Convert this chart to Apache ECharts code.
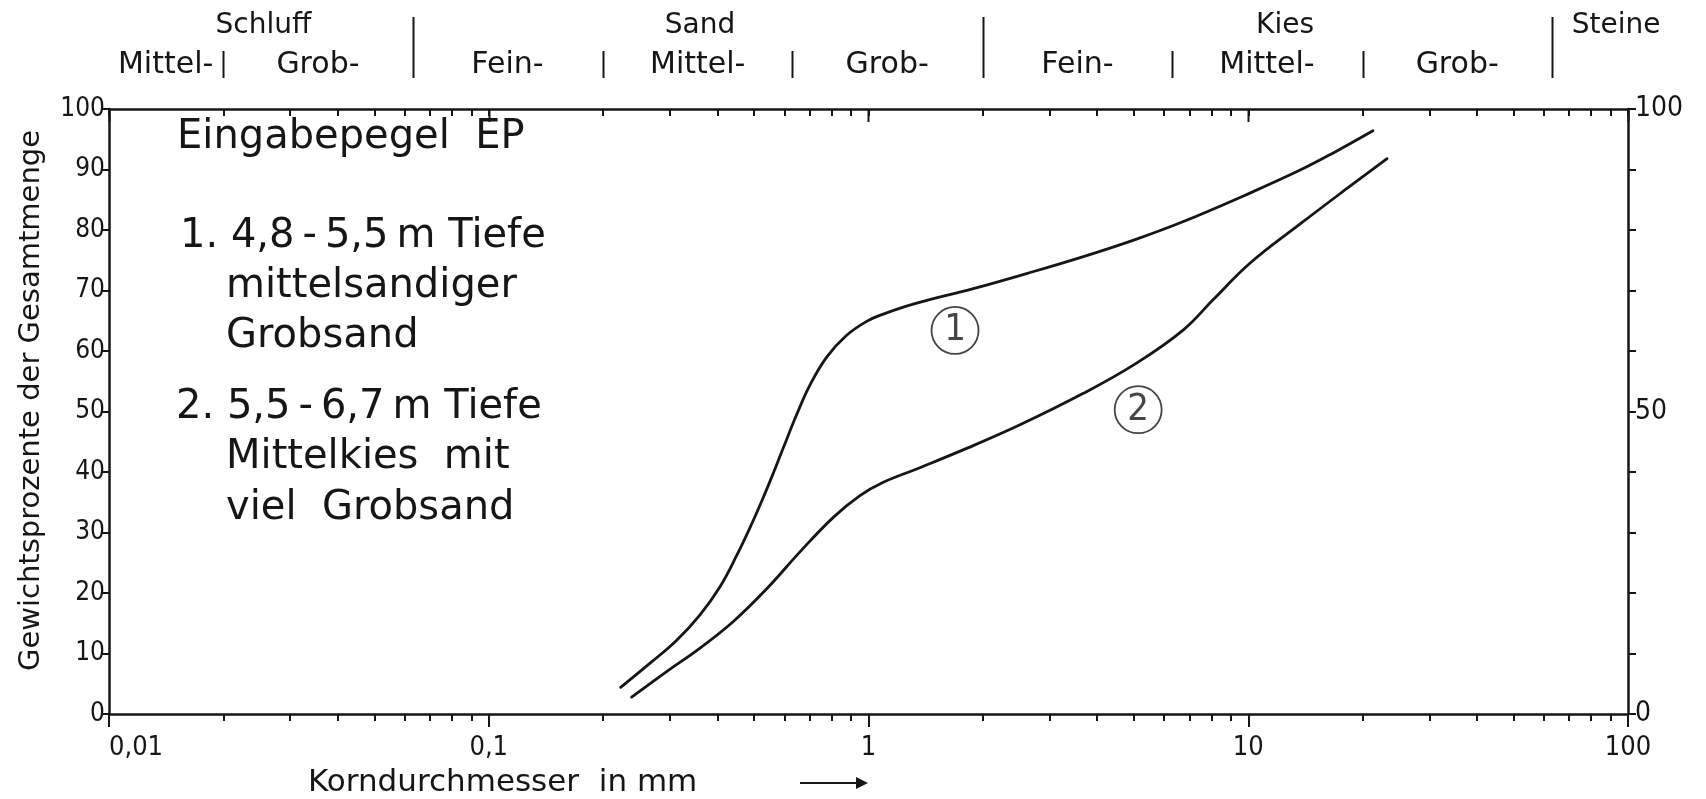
<!DOCTYPE html>
<html><head><meta charset="utf-8">
<script src="https://cdn.jsdelivr.net/npm/echarts@6/dist/echarts.min.js"></script>
<style>html,body{margin:0;padding:0;background:#fff}#c{width:1706px;height:799px}</style>
</head><body><div id="c"></div>
<script>
// ---- data ----
const xMajorTicks = [0.01, 0.1, 1, 10, 100];
const xMinorTicks = [0.02,0.03,0.04,0.05,0.06,0.07,0.08,0.09,
                     0.2,0.3,0.4,0.5,0.6,0.7,0.8,0.9,
                     2,3,4,5,6,7,8,9,
                     20,30,40,50,60,70,80,90];
const xAllTicks = [0.01,0.02,0.03,0.04,0.05,0.06,0.07,0.08,0.09,
                   0.1,0.2,0.3,0.4,0.5,0.6,0.7,0.8,0.9,
                   1,2,3,4,5,6,7,8,9,
                   10,20,30,40,50,60,70,80,90,100];
const rightLabels = [0, 50, 100];
// curve 1: 4,8-5,5 m Tiefe, mittelsandiger Grobsand  [mm, %]
const curve1 = [[0.2225,4.4],[0.266,8.4],[0.3126,12.2],[0.36,16.4],[0.406,21.0],[0.4497,26.2],
                [0.4875,30.8],[0.5284,35.8],[0.5614,39.8],[0.5966,44.0],[0.647,49.5],[0.7015,54.4],
                [0.776,59.0],[0.876,62.6],[0.989,64.9],[1.094,66.1],[1.339,67.9],[1.888,70.3],
                [2.61,72.8],[3.68,75.6],[5.08,78.5],[6.75,81.4],[10.1,86.1],[13.7,89.9],
                [16.7,92.7],[21.3,96.4]];
// curve 2: 5,5-6,7 m Tiefe, Mittelkies mit viel Grobsand
const curve2 = [[0.2378,2.8],[0.294,7.0],[0.36,10.9],[0.4406,15.3],[0.5395,20.7],[0.66,26.8],
                [0.8078,32.5],[0.9495,36.1],[1.094,38.3],[1.339,40.5],[1.813,43.9],[2.506,47.8],
                [3.68,53.0],[5.08,58.0],[6.75,63.5],[8.09,68.5],[10.1,74.5],
                [13.7,81.0],[18.5,87.2],[23.2,91.8]];
const curveTags = [{name:'1', at:[1.69,63.4]}, {name:'2', at:[5.13,50.3]}];
// grain-size classes (DIN 4022)
const mainBounds = [0.063, 2, 63];
const subBounds = [0.02, 0.2, 0.63, 6.3, 20];
const mainClasses = [['Schluff',0.0255],['Sand',0.36],['Kies',12.5],['Steine',93]];
const subClasses = [['Mittel-',0.0141],['Grob-',0.0355],['Fein-',0.112],['Mittel-',0.355],
                    ['Grob-',1.12],['Fein-',3.55],['Mittel-',11.2],['Grob-',35.5]];
const legendLines = ['Eingabepegel  EP','1. 4,8\u2009-\u20095,5\u2009m Tiefe','mittelsandiger','Grobsand',
                     '2. 5,5\u2009-\u20096,7\u2009m Tiefe','Mittelkies  mit','viel  Grobsand'];

const INK = '#161616';
const NARROW = '"DejaVu Sans Condensed","Liberation Sans Narrow","DejaVu Sans",sans-serif';
const SANS = '"DejaVu Sans","Liberation Sans",sans-serif';
const fmt = v => String(+v.toPrecision(6)).replace('.', ',');

const chart = echarts.init(document.getElementById('c'), null, {renderer:'canvas'});
const logAxis = (extra) => Object.assign({
  type:'log', logBase:10, min:0.01, max:100,
  splitLine:{show:false}, minorTick:{show:false}, minorSplitLine:{show:false}
}, extra);
chart.setOption({
  animation:false,
  backgroundColor:'#fff',
  grid:{left:109, right:78, top:109, bottom:85, containLabel:false},
  xAxis:[
    logAxis({position:'bottom',
      axisLine:{show:true, onZero:false, lineStyle:{color:INK, width:2.5}},
      axisTick:{show:true, length:13, lineStyle:{color:INK, width:2}, customValues:xMajorTicks},
      axisLabel:{show:true, margin:20, color:INK, fontFamily:NARROW, fontSize:27,
                 customValues:xMajorTicks, formatter:fmt, alignMinLabel:'left'}}),
    logAxis({position:'bottom',
      axisLine:{show:false},
      axisTick:{show:true, length:7, lineStyle:{color:INK, width:2}, customValues:xMinorTicks},
      axisLabel:{show:false}}),
    logAxis({position:'top',
      axisLine:{show:true, onZero:false, lineStyle:{color:INK, width:2.5}},
      axisTick:{show:true, inside:true, length:7, lineStyle:{color:INK, width:2},
                customValues:xAllTicks},
      axisLabel:{show:false}})
  ],
  yAxis:[
    {type:'value', position:'left', min:0, max:100, interval:10,
     name:'Gewichtsprozente der Gesamtmenge', nameLocation:'middle', nameGap:63, nameRotate:90,
     nameTextStyle:{color:INK, fontFamily:SANS, fontSize:29, padding:[0,0,0,22]},
     splitLine:{show:false},
     axisLine:{show:true, onZero:false, lineStyle:{color:INK, width:2.5}},
     axisTick:{show:true, length:8, lineStyle:{color:INK, width:2}},
     axisLabel:{color:INK, fontFamily:NARROW, fontSize:26, margin:4}},
    {type:'value', position:'right', min:0, max:100, interval:10,
     splitLine:{show:false},
     axisLine:{show:true, onZero:false, lineStyle:{color:INK, width:2.5}},
     axisTick:{show:true, length:8, lineStyle:{color:INK, width:2}},
     axisLabel:{color:INK, fontFamily:NARROW, fontSize:28, margin:7, customValues:rightLabels}}
  ],
  series:[
    {type:'line', name:'1', data:curve1, smooth:0.4, symbol:'none', xAxisIndex:0, yAxisIndex:0,
     lineStyle:{color:INK, width:2.8, cap:'round', join:'round'}},
    {type:'line', name:'2', data:curve2, smooth:0.4, symbol:'none', xAxisIndex:0, yAxisIndex:0,
     lineStyle:{color:INK, width:2.8, cap:'round', join:'round'}},
    {type:'scatter', name:'tags', xAxisIndex:0, yAxisIndex:0,
     data:curveTags.map(t => ({value:t.at, name:t.name})),
     symbol:'circle', symbolSize:47,
     itemStyle:{color:'rgba(255,255,255,0)', borderColor:INK, borderWidth:1.8},
     label:{show:true, position:'inside', formatter:p => p.name, color:INK,
            fontFamily:NARROW, fontSize:38}}
  ]
});

// header (grain classes), top major ticks, legend text, x-axis name
const px = v => chart.convertToPixel({xAxisIndex:0}, v);
const g = [];
xMajorTicks.forEach(v => {
  const x = Math.round(px(v)) + 0.5;
  g.push({type:'line', shape:{x1:x, y1:109, x2:x, y2:122}, style:{stroke:INK, lineWidth:2}});
});
mainBounds.forEach(b => {
  const x = Math.round(px(b)) + 0.5;
  g.push({type:'line', shape:{x1:x, y1:17, x2:x, y2:78}, style:{stroke:INK, lineWidth:2}});
});
subBounds.forEach(b => {
  const x = Math.round(px(b)) + 0.5;
  g.push({type:'line', shape:{x1:x, y1:51, x2:x, y2:78}, style:{stroke:INK, lineWidth:2}});
});
mainClasses.forEach(([t, v]) => g.push({type:'text', x:px(v), y:26,
  style:{text:t, fill:INK, font:'28px ' + SANS, align:'center', verticalAlign:'middle'}}));
subClasses.forEach(([t, v]) => g.push({type:'text', x:px(v), y:65,
  style:{text:t, fill:INK, font:'30px ' + SANS, align:'center', verticalAlign:'middle'}}));
const legPos = [[177,138],[180,237],[226,287],[226,337],[176,408],[226,458],[226,509]];
legendLines.forEach((t, i) => g.push({type:'text', x:legPos[i][0], y:legPos[i][1],
  style:{text:t, fill:INK, font:'40px ' + SANS, align:'left', verticalAlign:'middle'}}));
g.push({type:'text', x:308, y:783, style:{text:'Korndurchmesser  in mm', fill:INK,
  font:'31px ' + SANS, align:'left', verticalAlign:'middle'}});
g.push({type:'line', shape:{x1:800, y1:783, x2:858, y2:783}, style:{stroke:INK, lineWidth:2}});
g.push({type:'polygon', shape:{points:[[856,777],[868,783],[856,789]]}, style:{fill:INK}});
chart.setOption({graphic:g});
</script></body></html>
